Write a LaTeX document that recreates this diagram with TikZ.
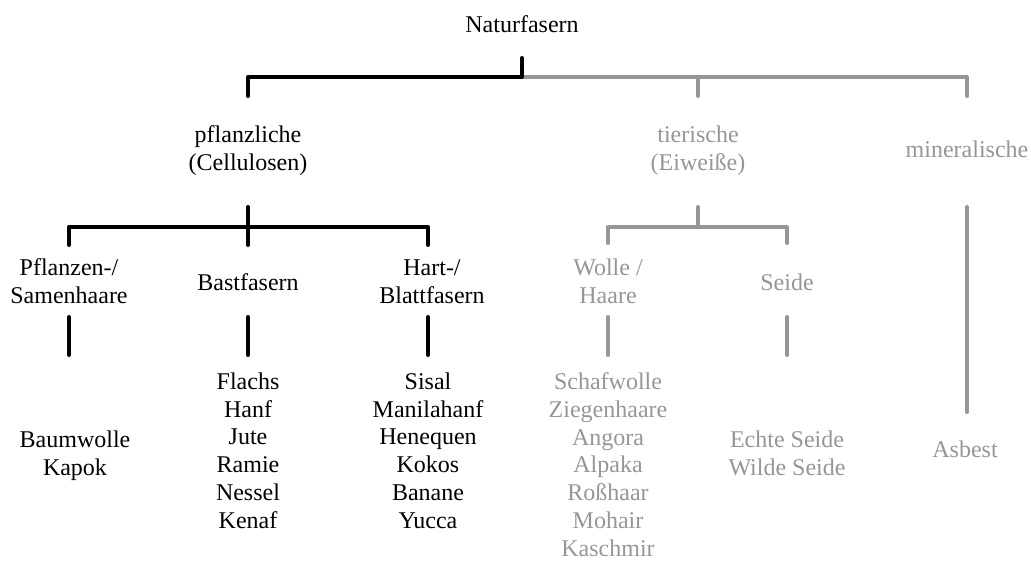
\documentclass[tikz,border=0pt]{standalone}
\usepackage{fontspec}
\setmainfont{Liberation Serif}
\definecolor{fibregrey}{RGB}{150,150,150}
\tikzset{
  lbl/.style={align=center, inner sep=0pt, anchor=base, font=\fontsize{12}{13.85}\selectfont},
  greylbl/.style={lbl, text=fibregrey},
  blackbar/.style={line width=2pt, line cap=round, line join=round, black},
  greybar/.style={line width=2pt, line cap=round, line join=round, fibregrey}
}
\begin{document}
\begin{tikzpicture}[x=0.5pt, y=-0.5pt]
\useasboundingbox (0,0) rectangle (1031,563);

% level 0 and 1 (base = last line)
\node[lbl] (nat) at (522,32) {Naturfasern};
\node[lbl] (pfl) at (248,170) {pflanzliche\\(Cellulosen)};
\node[greylbl] (tier) at (698,170) {tierische\\(Eiweiße)};
\node[greylbl] (min) at (967,157) {mineralische};

% level 2
\node[lbl] (samen) at (69,303) {Pflanzen-/\\Samenhaare};
\node[lbl] (bast) at (248,290) {Bastfasern};
\node[lbl] (hart) at (432,303) {Hart-/\\Blattfasern};
\node[greylbl] (wolle) at (608,303) {Wolle /\\Haare};
\node[greylbl] (seide) at (787,290) {Seide};

% leaves
\node[lbl] (baum) at (75,475) {Baumwolle\\Kapok};
\node[lbl] (flachs) at (248,528) {Flachs\\Hanf\\Jute\\Ramie\\Nessel\\Kenaf};
\node[lbl] (sisal) at (428,528) {Sisal\\Manilahanf\\Henequen\\Kokos\\Banane\\Yucca};
\node[greylbl] (schaf) at (608,556) {Schafwolle\\Ziegenhaare\\Angora\\Alpaka\\Roßhaar\\Mohair\\Kaschmir};
\node[greylbl] (echt) at (787,475) {Echte Seide\\Wilde Seide};
\node[greylbl] (asb) at (965,457) {Asbest};

% top bracket
\draw[greybar] (nat |- 0,77) -- (967,77) -- (967,96);
\draw[greybar] (tier |- 0,77) -- (tier |- 0,96);
\draw[blackbar] (nat |- 0,58) -- (nat |- 0,77) -- (pfl |- 0,77) -- (pfl |- 0,96);

% plant branch
\draw[blackbar] (pfl |- 0,207) -- (pfl |- 0,245);
\draw[blackbar] (samen |- 0,245) -- (samen |- 0,227) -- (428,227) -- (428,245);
\draw[blackbar] (samen |- 0,317) -- (samen |- 0,355);
\draw[blackbar] (bast |- 0,317) -- (bast |- 0,355);
\draw[blackbar] (428,317) -- (428,355);

% animal branch
\draw[greybar] (tier |- 0,207) -- (tier |- 0,227);
\draw[greybar] (wolle |- 0,243) -- (wolle |- 0,227) -- (seide |- 0,227) -- (seide |- 0,243);
\draw[greybar] (wolle |- 0,317) -- (wolle |- 0,355);
\draw[greybar] (seide |- 0,317) -- (seide |- 0,355);

% mineral branch
\draw[greybar] (min |- 0,207) -- (min |- 0,412);
\end{tikzpicture}
\end{document}
